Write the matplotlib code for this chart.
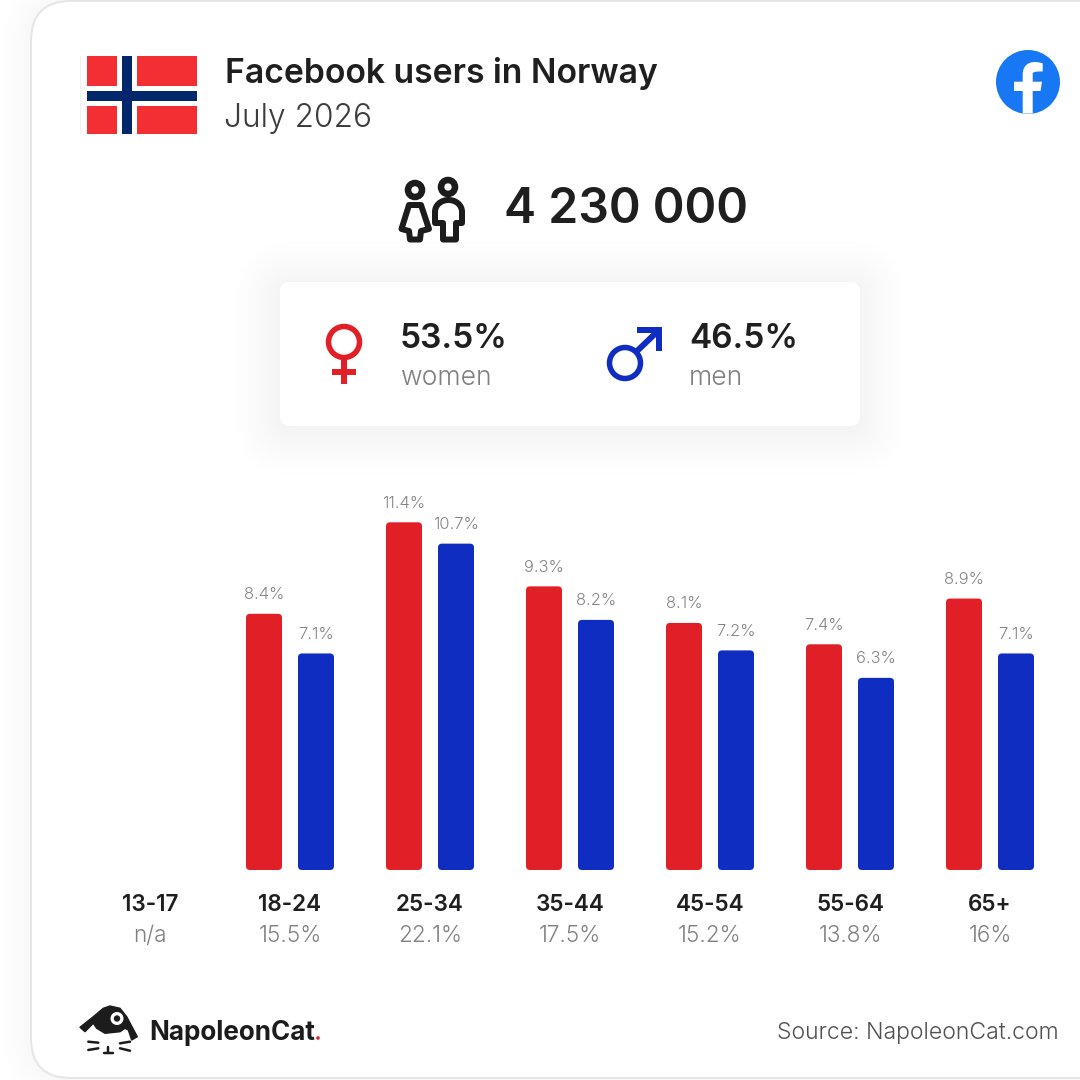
import numpy as np
import matplotlib
matplotlib.use("Agg")
import matplotlib.pyplot as plt
from matplotlib.patches import FancyBboxPatch, Rectangle, Circle, PathPatch
from matplotlib.path import Path
from matplotlib.transforms import blended_transform_factory

# ---------- data ----------
age_groups = ["13-17", "18-24", "25-34", "35-44", "45-54", "55-64", "65+"]
women = [np.nan, 8.4, 11.4, 9.3, 8.1, 7.4, 8.9]
men = [np.nan, 7.1, 10.7, 8.2, 7.2, 6.3, 7.1]
group_totals = ["n/a", "15.5%", "22.1%", "17.5%", "15.2%", "13.8%", "16%"]
title = "Facebook users in Norway"
subtitle = "July 2026"
total_users = "4 230 000"
women_share = "53.5%"
men_share = "46.5%"

# ---------- style ----------
RED = "#e01f26"
BLUE = "#0f2dc0"
DARK = "#1f1f1f"
GREY = "#808080"
BOLD = "Inter"
LIGHT = "Inter"
LW = 300
PX = 0.72  # points per pixel at dpi 100

fig = plt.figure(figsize=(10.8, 10.8), dpi=100, facecolor="white")
bg = fig.add_axes([0, 0, 1, 1])
bg.set_xlim(0, 1080)
bg.set_ylim(1080, 0)
bg.axis("off")


def rbox(x0, y0, x1, y1, r, **kw):
    return FancyBboxPatch((x0, y0), x1 - x0, y1 - y0,
                          boxstyle=f"round,pad=0,rounding_size={r}", **kw)


def shadow(x0, y0, x1, y1, r, spread, levels, dy=0, z=1):
    # each layer darkens the white page by one 8-bit level
    for i in range(levels):
        s = spread * (1 - i / levels) ** 1.3
        bg.add_patch(rbox(x0 - s, y0 - s + dy, x1 + s, y1 + s + dy, r + s,
                          fc="black", ec="none", alpha=0.0055, zorder=z))


# card
shadow(31, 1, 1200, 1078, 40, 28, 7)
bg.add_patch(rbox(31, 1, 1200, 1078, 40, fc="white", ec="#e6e6e6", lw=2 * PX, zorder=2))

# flag
bg.add_patch(Rectangle((80, 56), 1, 78, fc="#f2f2f2", ec="none", zorder=3))
for (x, y, w, h) in [(87, 56, 30, 30), (137, 56, 60, 30), (87, 106, 30, 28), (137, 106, 60, 28)]:
    bg.add_patch(Rectangle((x, y), w, h, fc="#f32f33", ec="none", zorder=3))
bg.add_patch(Rectangle((122, 56), 10, 78, fc="#00266b", ec="none", zorder=3))
bg.add_patch(Rectangle((87, 91), 110, 10, fc="#00266b", ec="none", zorder=3))

# header text
bg.text(225, 74, title, family=BOLD, weight="semibold", size=33.7 * PX, color=DARK, va="center", ha="left", zorder=5)
bg.text(224, 118, subtitle, family=LIGHT, weight=LW, size=31.7 * PX, color="#3c3c3c", va="center", ha="left", zorder=5)

# facebook icon
bg.add_patch(Circle((1028, 82), 32, fc="#1877f2", ec="none", zorder=3))
f_verts = [(1022.7, 113.6), (1022.7, 91), (1014, 91), (1014, 81.7), (1022.7, 81.7), (1022.7, 74.5),
           (1022.7, 66), (1028, 62), (1035, 62), (1038.5, 62), (1042.7, 63.3), (1042.7, 63.3),
           (1042.7, 71.5), (1040, 71.5), (1035, 71), (1032.7, 73), (1032.7, 76.5), (1032.7, 81.7),
           (1042, 81.7), (1040.5, 91), (1032.7, 91), (1032.7, 113.6), (1022.7, 113.6)]
f_codes = [Path.MOVETO, Path.LINETO, Path.LINETO, Path.LINETO, Path.LINETO, Path.LINETO,
           Path.CURVE4, Path.CURVE4, Path.CURVE4, Path.CURVE4, Path.CURVE4, Path.CURVE4,
           Path.LINETO, Path.CURVE4, Path.CURVE4, Path.CURVE4, Path.LINETO, Path.LINETO,
           Path.LINETO, Path.LINETO, Path.LINETO, Path.LINETO, Path.CLOSEPOLY]
bg.add_patch(PathPatch(Path(f_verts, f_codes), fc="white", ec="none", zorder=4))

# people icon
icon_kw = dict(fc="none", ec="#1c1c1c", lw=6 * PX, zorder=4, joinstyle="round")
bg.add_patch(Circle((415, 190), 7, fc="none", ec="#1c1c1c", lw=6.5 * PX, zorder=4))
bg.add_patch(Circle((448, 187), 7, fc="none", ec="#1c1c1c", lw=6.5 * PX, zorder=4))
fem = [(409, 205), (421, 205), (429, 229), (421, 231), (420, 239.5), (410, 239.5), (409, 231), (401.5, 229), (409, 205)]
bg.add_patch(PathPatch(Path(fem, closed=True), **icon_kw))
male_v = [(435, 223), (435, 212), (435, 205), (441, 200), (448.5, 200), (456, 200), (462, 205), (462, 212),
          (462, 223), (456, 223), (456, 239.5), (443, 239.5), (443, 223), (435, 223)]
male_c = [Path.MOVETO, Path.LINETO, Path.CURVE4, Path.CURVE4, Path.CURVE4, Path.CURVE4, Path.CURVE4, Path.CURVE4,
          Path.LINETO, Path.LINETO, Path.LINETO, Path.LINETO, Path.LINETO, Path.CLOSEPOLY]
bg.add_patch(PathPatch(Path(male_v, male_c), **icon_kw))
bg.text(504, 210, total_users, family=BOLD, weight="semibold", size=48.2 * PX, color=DARK, va="center", ha="left", zorder=5)

# gender box
shadow(280, 282, 860, 426, 10, 44, 11, dy=4, z=2.5)
bg.add_patch(rbox(280, 282, 860, 426, 10, fc="white", ec="none", zorder=2.6))

# female symbol
bg.add_patch(Circle((344, 342), 15.5, fc="none", ec=RED, lw=5.5 * PX, zorder=4))
bg.add_patch(Rectangle((341, 358), 6, 26, fc=RED, ec="none", zorder=4))
bg.add_patch(Rectangle((332, 369), 24, 6, fc=RED, ec="none", zorder=4))
# male symbol
bg.add_patch(Circle((625, 363), 15.5, fc="none", ec=BLUE, lw=5.5 * PX, zorder=4))
bg.plot([636, 658], [352, 331], color=BLUE, lw=6 * PX, solid_capstyle="butt", zorder=4)
bg.add_patch(Rectangle((637, 327), 25, 6, fc=BLUE, ec="none", zorder=4))
bg.add_patch(Rectangle((656, 327), 6, 24, fc=BLUE, ec="none", zorder=4))

bg.text(400, 339, women_share, family=BOLD, weight="semibold", size=33.5 * PX, color=DARK, va="center", ha="left", zorder=5)
bg.text(400, 378, "women", family=LIGHT, weight=LW, size=26.5 * PX, color=GREY, va="center", ha="left", zorder=5)
bg.text(689, 339, men_share, family=BOLD, weight="semibold", size=33.5 * PX, color=DARK, va="center", ha="left", zorder=5)
bg.text(689, 378, "men", family=LIGHT, weight=LW, size=26.5 * PX, color=GREY, va="center", ha="left", zorder=5)

# ---------- bar chart ----------
PXW = 140.0            # pixels per age group
PXV = 30.5             # pixels per percentage point
ax = fig.add_axes([80 / 1080, (1080 - 870) / 1080, 980 / 1080, 400 / 1080], facecolor="none")
ax.set_xlim(-0.5, 6.5)
ax.set_ylim(0, 400 / PXV)
for s in ax.spines.values():
    s.set_visible(False)
ax.yaxis.set_visible(False)
ax.set_xticks(range(len(age_groups)))
ax.set_xticklabels(age_groups, family=BOLD, weight="semibold", size=22.5 * PX, color=DARK)
ax.tick_params(axis="x", length=0, pad=(905 - 870 - 11) * PX)

bar_w = 36 / PXW
offset = 26 / PXW
aspect = PXW / PXV
for values, sign, color in [(women, -1, RED), (men, 1, BLUE)]:
    for i, v in enumerate(values):
        if np.isnan(v):
            continue
        xc = i + sign * offset
        ax.add_patch(FancyBboxPatch((xc - bar_w / 2, 0), bar_w, v,
                                    boxstyle=f"round,pad=0,rounding_size={4 / PXW}",
                                    mutation_aspect=aspect, fc=color, ec="none", clip_on=False))
        ax.annotate(f"{v}%", (xc, v), xytext=(0, 19 * PX), textcoords="offset points",
                    ha="center", va="center", family=LIGHT, weight=LW, size=16.5 * PX, color="#858585")

trans = blended_transform_factory(ax.transData, ax.transAxes)
for i, t in enumerate(group_totals):
    ax.annotate(t, (i, 0), xycoords=trans, xytext=(0, -66 * PX), textcoords="offset points",
                ha="center", va="center", family=LIGHT, weight=LW, size=22.5 * PX, color=GREY)

# ---------- footer ----------
cat_v = [(80, 1027.3), (93.3, 1016.7), (103.3, 1008.3), (110, 1006), (120, 1008.3), (126.7, 1016.7), (137.3, 1036.7),
         (131.7, 1040), (128.3, 1030), (125, 1028.3), (120, 1031.7), (105, 1033.3), (96.7, 1028.3), (93.3, 1023.3),
         (85, 1031.7), (80, 1027.3)]
bg.add_patch(PathPatch(Path(cat_v, closed=True), fc="#1c1c1c", ec="#1c1c1c", lw=1, joinstyle="round", zorder=4))
bg.add_patch(Circle((117, 1018.5), 6.5, fc="white", ec="none", zorder=5))
bg.add_patch(Circle((117, 1018.5), 3.2, fc="#1c1c1c", ec="none", zorder=6))
for xs, ys in [((88.3, 98.3), (1041.7, 1042.7)), ((88.3, 98.3), (1050, 1048.3)), ((120, 130), (1043.3, 1041.7)),
               ((120, 130), (1048.3, 1050.7)), ((107.7, 107.7), (1046.5, 1052)), ((103.5, 113), (1052.5, 1052.5))]:
    bg.plot(xs, ys, color="#1c1c1c", lw=2.5 * PX, solid_capstyle="round", zorder=4)

bg.text(149, 1033, "NapoleonCat", family=BOLD, weight="bold", size=26 * PX, color="#1c1c1c",
        va="center", ha="left", zorder=5)
bg.add_patch(Circle((318, 1038), 1.8, fc="#e8202a", ec="none", zorder=5))
bg.text(1059, 1033, "Source: NapoleonCat.com", family=LIGHT, weight=LW, size=23 * PX, color="#505050",
        va="center", ha="right", zorder=5)

fig.savefig("out.png", dpi=100)
